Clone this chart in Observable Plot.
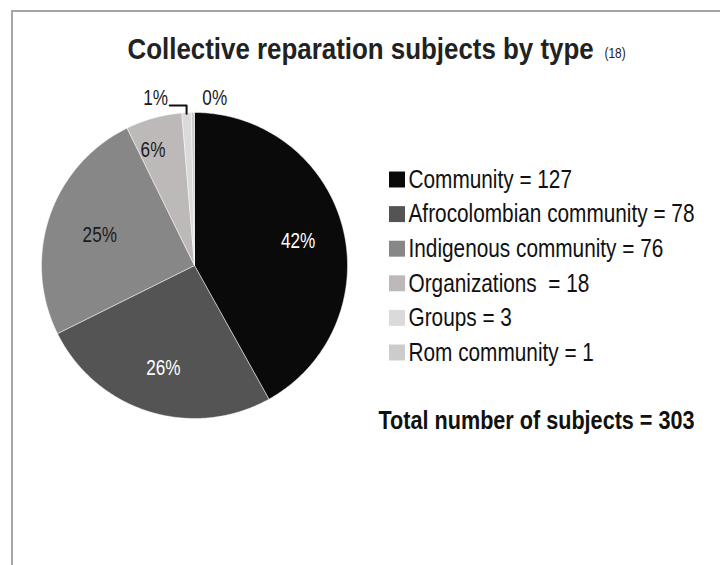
<!DOCTYPE html>
<html>
<head>
<meta charset="utf-8">
<script src="https://cdn.jsdelivr.net/npm/d3@7"></script>
<script src="https://cdn.jsdelivr.net/npm/@observablehq/plot@0.6"></script>
<style>
  html, body { margin: 0; padding: 0; background: #fff; }
  #chart svg { display: block; }
</style>
</head>
<body>
<div id="chart"></div>
<script>
// ---- data ----
const categories = ["Community", "Afrocolombian community", "Indigenous community", "Organizations", "Groups", "Rom community"];
const counts = [127, 78, 76, 18, 3, 1];
const percentLabels = ["42%", "26%", "25%", "6%", "1%", "0%"];
const legendLabels = ["Community = 127", "Afrocolombian community = 78", "Indigenous community = 76", "Organizations\u00a0\u00a0= 18", "Groups = 3", "Rom community = 1"];
const sliceColors = ["#0a0a0a", "#545454", "#878787", "#bdb9b9", "#dadada", "#cccccc"];
const labelColors = ["#ffffff", "#ffffff", "#1a1a1a", "#1a1a1a", "#1a1a1a", "#1a1a1a"];
const titleText = "Collective reparation subjects by type";
const titleNote = "(18)";
const totalText = "Total number of subjects = 303";

// ---- layout ----
const W = 720, H = 565;
const cx = 194, cy = 265, R = 153;
const labelRadius = [107, 105, 100, 122, 170, 170];
const labelDx = [0, 0, 0, -9, -30, 22];
const FONT = "'Liberation Sans', Arial, sans-serif";
// horizontal condensing (emulates a narrow typeface)
const narrow = {title: 0.893, note: 0.85, legend: 0.8, total: 0.865, pct: 0.78};

const pie = d3.pie().sort(null).value(d => d)(counts);

// polygon points for each slice (angles from d3.pie, clockwise from top)
const slicePts = [];
pie.forEach((p, i) => {
  const n = Math.max(2, Math.ceil((p.endAngle - p.startAngle) / 0.01));
  slicePts.push({name: categories[i], x: cx, y: cy});
  for (let k = 0; k <= n; k++) {
    const a = p.startAngle + (p.endAngle - p.startAngle) * k / n;
    slicePts.push({name: categories[i], x: cx + R * Math.sin(a), y: cy - R * Math.cos(a)});
  }
  slicePts.push({name: categories[i], x: cx, y: cy});
});

const labels = pie.map((p, i) => {
  const a = (p.startAngle + p.endAngle) / 2;
  return {
    text: percentLabels[i],
    x: cx + labelRadius[i] * Math.sin(a) + labelDx[i],
    y: cy - labelRadius[i] * Math.cos(a) + 2,
    color: labelColors[i]
  };
});

// leader line for the "Groups" (1%) slice
const gp = pie[4];
const ga = (gp.startAngle + gp.endAngle) / 2;
const gx = cx + R * Math.sin(ga), gy = cy - R * Math.cos(ga);
const leader = [
  {x: gx, y: gy + 1},
  {x: gx, y: 105},
  {x: labels[4].x + 14, y: 105}
];

const legend = categories.map((c, i) => ({name: c, label: legendLabels[i], row: i}));
const rowY = i => 179 + i * 34.6;

const chart = Plot.plot({
  width: W,
  height: H,
  margin: 0,
  style: {fontFamily: FONT, background: "#fff"},
  x: {domain: [0, W], range: [0, W], axis: null},
  y: {domain: [0, H], range: [0, H], axis: null},
  color: {domain: categories, range: sliceColors},
  marks: [
    // frame (top and left edges)
    Plot.ruleY([10.5], {x1: 11, x2: W, stroke: "#a6a6a6", strokeWidth: 2}),
    Plot.ruleX([11.5], {y1: 10, y2: H, stroke: "#a6a6a6", strokeWidth: 2}),
    // slices
    Plot.line(slicePts, {x: "x", y: "y", z: "name", fill: "name", stroke: "#ffffff", strokeWidth: 0.6, strokeOpacity: 0.8, curve: "linear"}),
    // leader line
    Plot.line(leader, {x: "x", y: "y", stroke: "#111", strokeWidth: 2}),
    // percent labels
    Plot.text(labels, {x: "x", y: "y", text: "text", fill: "color", fontSize: 22, textAnchor: "middle", lineAnchor: "middle", className: "t-pct"}),
    // title
    Plot.text([titleText], {x: 127, y: 58, text: d => d, fontSize: 29, fontWeight: "bold", textAnchor: "start", lineAnchor: "bottom", fill: "#222", className: "t-title"}),
    Plot.text([titleNote], {x: 604, y: 57, text: d => d, fontSize: 14, textAnchor: "start", lineAnchor: "bottom", fill: "#222", className: "t-note"}),
    // legend
    Plot.dot(legend, {x: 396.5, y: d => rowY(d.row), symbol: "square", r: 9, fill: "name", stroke: null}),
    Plot.text(legend, {x: 408, y: d => rowY(d.row), text: "label", fontSize: 26, textAnchor: "start", lineAnchor: "middle", fill: "#111", className: "t-legend"}),
    // total
    Plot.text([totalText], {x: 378, y: 428, text: d => d, fontSize: 25, fontWeight: "bold", textAnchor: "start", lineAnchor: "bottom", fill: "#111", className: "t-total"})
  ]
});
document.getElementById("chart").appendChild(chart);

// condense text horizontally about each text's anchor point
for (const [key, f] of Object.entries(narrow)) {
  chart.querySelectorAll(".t-" + key + " text").forEach(t => {
    const xa = +(t.getAttribute("x") || 0);
    const prev = t.getAttribute("transform");
    t.setAttribute("transform", (prev ? prev + " " : "") + `translate(${xa},0) scale(${f},1) translate(${-xa},0)`);
  });
}
</script>
</body>
</html>
